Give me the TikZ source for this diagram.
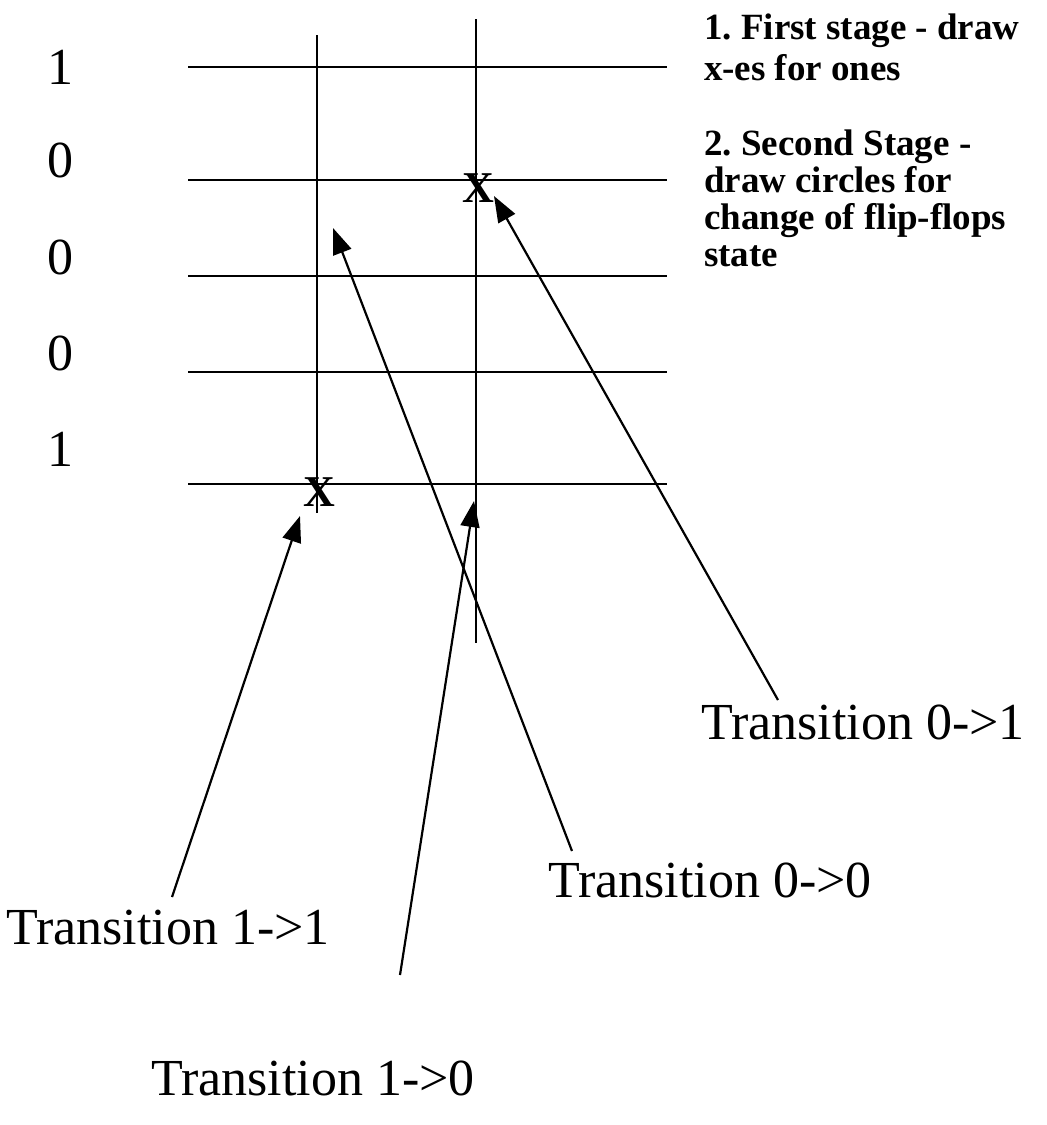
\documentclass[tikz,border=0pt]{standalone}
\usepackage{fontspec}
\setmainfont{Liberation Serif}
\usetikzlibrary{arrows.meta,calc}
\frenchspacing

\begin{document}
\begin{tikzpicture}[x=1pt,y=-1pt,>={Triangle[length=26pt,width=19pt]},line width=2.2pt,
    bitlabel/.style={anchor=base,font=\fontsize{52}{60}\selectfont,inner sep=0pt},
    translabel/.style={font=\fontsize{52}{60}\selectfont,inner sep=0pt},
    stagenote/.style={anchor=north west,align=left,inner sep=0pt,font=\fontsize{37}{#1}\selectfont\bfseries},
    xmark/.style={font=\fontsize{44}{44}\selectfont\bfseries,inner sep=0pt}]
  \useasboundingbox (0,0) rectangle (1047,1125);
  % flip-flop rows
  \foreach \bit/\ly/\y [count=\i] in {1/84/67,0/177/180,0/274/276,0/370/372,1/466/484}{
    \node[bitlabel] (bit\i) at (60,\ly) {\bit};
    \draw (188,\y) coordinate (row\i) -- (667,\y);
  }
  % two vertical lines
  \draw (317,35) coordinate (colA) -- (317,513);
  \draw (476,19) coordinate (colB) -- (476,643);
  \node[xmark] (xA) at (319,492) {X};
  \node[xmark] (xB) at (478,188) {X};
  % notes
  \node[stagenote=41] (stage1) at (703,13) {1. First stage - draw\\x-es for ones};
  \node[stagenote=37] (stage2) at (703,129) {2. Second Stage -\\draw circles for\\change of flip-flops\\state};
  % transitions
  \node[translabel] (t11) at (168,928) {Transition 1->1};
  \node[translabel] (t10) at (313,1078) {Transition 1->0};
  \node[translabel] (t00) at (710,880) {Transition 0->0};
  \node[translabel] (t01) at (863,722) {Transition 0->1};
  \coordinate (s11) at (172,897);
  \coordinate (s10) at (400,975);
  \coordinate (s00) at (572,851);
  \coordinate (s01) at (778,700);
  \coordinate (e11) at (300,516);
  \coordinate (e10) at (474,501);
  \coordinate (e00) at (333,228);
  \coordinate (e01) at (494,196);
  \draw[->] (s11) -- (e11);
  \draw[->] (s10) -- (e10);
  \draw[->] (s00) -- (e00);
  \draw[->] (s01) -- (e01);
\end{tikzpicture}
\end{document}
